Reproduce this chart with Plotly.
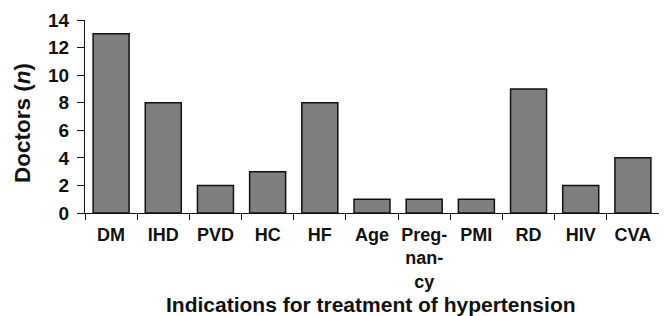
import plotly.graph_objects as go

categories = ["DM", "IHD", "PVD", "HC", "HF", "Age", "Preg-<br>nan-<br>cy", "PMI", "RD", "HIV", "CVA"]
doctors = [13, 8, 2, 3, 8, 1, 1, 1, 9, 2, 4]
y_ticks = [0, 2, 4, 6, 8, 10, 12, 14]

fig = go.Figure(go.Bar(
    x=categories, y=doctors,
    marker=dict(color="#7f7f81", line=dict(color="#111111", width=1.5)),
))

font_family = "Liberation Sans, Arial, sans-serif"
OFF = 8  # page body margin
W, H = 667 - OFF, 316 - OFF
L, T = 85 - OFF, 20 - OFF
R = W - (659 - OFF)
B = H - (213 - OFF)
pw, ph = W - L - R, H - T - B

def px_x(page_x):
    return (page_x - OFF - L) / pw

def px_y(page_y):
    return ((T + ph) - (page_y - OFF)) / ph

fig.update_layout(
    width=W, height=H,
    margin=dict(l=L, r=R, t=T, b=B, autoexpand=False),
    paper_bgcolor="white", plot_bgcolor="white",
    bargap=0.31,
    showlegend=False,
    font=dict(family=font_family, color="#111111"),
    annotations=[
        dict(text="<b>Indications for treatment of hypertension</b>", xref="paper", yref="paper",
             x=px_x(371), y=px_y(304), xanchor="center", yanchor="middle",
             showarrow=False, font=dict(size=21, family=font_family, color="#111111")),
        dict(text="<b>Doctors (<i>n</i>)</b>", xref="paper", yref="paper", textangle=-90,
             x=px_x(22), y=px_y(123), xanchor="center", yanchor="middle",
             showarrow=False, font=dict(size=22.5, family=font_family, color="#111111")),
    ],
)
fig.update_xaxes(
    automargin=False,
    showline=True, linecolor="#111111", linewidth=1.2,
    ticks="outside", tickson="boundaries", ticklen=6, tickcolor="#111111", tickwidth=1.2,
    tickfont=dict(size=18, family=font_family, weight="bold"),
    ticklabelstandoff=5,
    showgrid=False, zeroline=False, tickangle=0,
)
fig.update_yaxes(
    automargin=False,
    range=[0, 14], tickvals=y_ticks,
    showline=True, linecolor="#111111", linewidth=1.2,
    ticks="outside", ticklen=7, tickcolor="#111111", tickwidth=1.2,
    tickfont=dict(size=19, family=font_family, weight="bold"),
    ticklabelstandoff=4,
    showgrid=False, zeroline=False,
)

fig.write_html("out.html")
